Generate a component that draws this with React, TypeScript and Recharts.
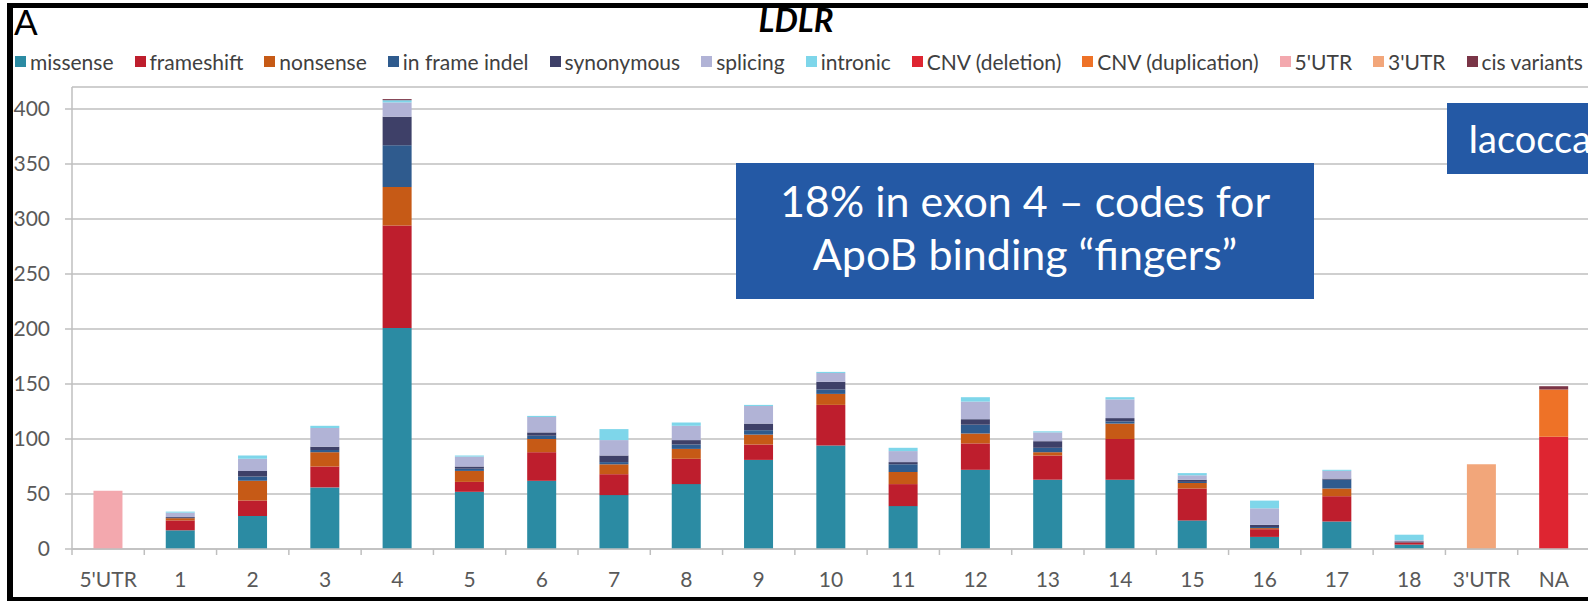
import React from 'react';
import { BarChart, Bar, XAxis, YAxis, CartesianGrid } from 'recharts';

// LDLR variant counts per exon
const categories = ["5'UTR", '1', '2', '3', '4', '5', '6', '7', '8', '9', '10', '11', '12', '13', '14', '15', '16', '17', '18', "3'UTR", 'NA'];

const missense = [0, 17, 30, 56, 201, 52, 62, 49, 59, 81, 94, 39, 72, 63, 63, 26, 11, 25, 4, 0, 0];
const frameshift = [0, 9, 14, 19, 93, 9, 26, 19, 23, 14, 37, 20, 24, 22, 37, 29, 7, 23, 2, 0, 0];
const nonsense = [0, 2, 18, 13, 35, 10, 12, 9, 9, 9, 10, 11, 9, 3, 14, 5, 1, 7, 0, 0, 0];
const inFrameIndel = [0, 0, 4, 2, 38, 2, 3, 2, 4, 4, 4, 7, 8, 4, 2, 1, 1, 8, 0, 0, 0];
const synonymous = [0, 1, 5, 3, 26, 2, 3, 6, 4, 6, 7, 2, 5, 6, 3, 2, 2, 1, 1, 0, 0];
const splicing = [0, 4, 11, 17, 13, 9, 14, 14, 13, 16, 8, 10, 16, 8, 17, 4, 15, 7, 1, 0, 0];
const intronic = [0, 1, 3, 2, 2, 1, 1, 10, 3, 1, 1, 3, 4, 1, 2, 2, 7, 1, 5, 0, 0];
const cnvDeletion = [0, 0, 0, 0, 0, 0, 0, 0, 0, 0, 0, 0, 0, 0, 0, 0, 0, 0, 0, 0, 102];
const cnvDuplication = [0, 0, 0, 0, 0, 0, 0, 0, 0, 0, 0, 0, 0, 0, 0, 0, 0, 0, 0, 0, 43];
const utr5 = [53, 0, 0, 0, 0, 0, 0, 0, 0, 0, 0, 0, 0, 0, 0, 0, 0, 0, 0, 0, 0];
const utr3 = [0, 0, 0, 0, 0, 0, 0, 0, 0, 0, 0, 0, 0, 0, 0, 0, 0, 0, 0, 77, 0];
const cisVariants = [0, 0, 0, 0, 1, 0, 0, 0, 0, 0, 0, 0, 0, 0, 0, 0, 0, 0, 0, 0, 3];

const yTicks = [0, 50, 100, 150, 200, 250, 300, 350, 400];

const series = [
  { key: 'missense', name: 'missense', color: '#2B8BA3', values: missense },
  { key: 'frameshift', name: 'frameshift', color: '#BE1E2D', values: frameshift },
  { key: 'nonsense', name: 'nonsense', color: '#C65A16', values: nonsense },
  { key: 'indel', name: 'in frame indel', color: '#2F5B8E', values: inFrameIndel },
  { key: 'synonymous', name: 'synonymous', color: '#3E4068', values: synonymous },
  { key: 'splicing', name: 'splicing', color: '#B1B3D6', values: splicing },
  { key: 'intronic', name: 'intronic', color: '#7ED6EA', values: intronic },
  { key: 'cnvDel', name: 'CNV (deletion)', color: '#DE2531', values: cnvDeletion },
  { key: 'cnvDup', name: 'CNV (duplication)', color: '#EE7227', values: cnvDuplication },
  { key: 'utr5', name: "5'UTR", color: '#F3A8AE', values: utr5 },
  { key: 'utr3', name: "3'UTR", color: '#F2A67A', values: utr3 },
  { key: 'cis', name: 'cis variants', color: '#7A3547', values: cisVariants },
];

const data = categories.map((category, i) => {
  const row: Record<string, string | number> = { category };
  series.forEach((s) => {
    row[s.key] = s.values[i];
  });
  return row;
});

const CHART_W = 1600;
const CHART_H = 601;
const MARGIN = { top: 87, right: 10, left: 0, bottom: 0 };
const Y_AXIS_W = 72;
const PLOT_W = CHART_W - MARGIN.left - MARGIN.right - Y_AXIS_W;
const AXIS_GREY = '#bfbfbf';
const LABEL_GREY = '#595959';
const FONT = 'Lato, "Open Sans", sans-serif';
const BOX_BLUE = '#2459A5';

const CategoryTick = (props: any) => {
  const { x, y, payload } = props;
  const half = PLOT_W / categories.length / 2;
  return (
    <g>
      <line x1={x - half} x2={x - half} y1={y} y2={y + 6} stroke={AXIS_GREY} strokeWidth={1.5} />
      <text x={x} y={y + 38} textAnchor="middle" fill={LABEL_GREY} fontSize={21} fontFamily={FONT}>
        {payload.value}
      </text>
    </g>
  );
};

const LegendRow = () => (
  <div
    style={{
      position: 'absolute',
      top: 51,
      left: 15,
      display: 'flex',
      gap: 21,
      whiteSpace: 'nowrap',
      fontSize: 21,
      lineHeight: '21px',
      color: '#404040',
      fontFamily: FONT,
    }}
  >
    {series.map((s) => (
      <div key={s.key} style={{ display: 'flex', alignItems: 'center' }}>
        <span style={{ display: 'inline-block', width: 11, height: 11, background: s.color, marginRight: 4 }} />
        <span>{s.name}</span>
      </div>
    ))}
  </div>
);

export default function App() {
  return (
    <div
      style={{
        position: 'absolute',
        left: 0,
        top: 0,
        width: 1588,
        height: 601,
        overflow: 'hidden',
        background: '#fff',
        fontFamily: FONT,
      }}
    >
      <BarChart width={CHART_W} height={CHART_H} data={data} margin={MARGIN} barCategoryGap="29.7%">
        <CartesianGrid vertical={false} stroke={AXIS_GREY} strokeWidth={1.4} />
        <XAxis
          dataKey="category"
          interval={0}
          height={52}
          tickSize={0}
          tickMargin={0}
          tickLine={false}
          axisLine={{ stroke: AXIS_GREY, strokeWidth: 1.5 }}
          tick={(p: any) => <CategoryTick {...p} />}
        />
        <YAxis
          width={Y_AXIS_W}
          domain={[0, 420]}
          ticks={yTicks}
          tickSize={7}
          tickMargin={15}
          axisLine={{ stroke: AXIS_GREY, strokeWidth: 1.5 }}
          tickLine={{ stroke: AXIS_GREY, strokeWidth: 1.5 }}
          tick={{ fill: LABEL_GREY, fontSize: 21, fontFamily: FONT }}
        />
        {series.map((s) => (
          <Bar key={s.key} dataKey={s.key} name={s.name} stackId="v" fill={s.color} isAnimationActive={false} />
        ))}
      </BarChart>

      <LegendRow />

      <div style={{ position: 'absolute', left: 14, top: 4, fontSize: 35, lineHeight: '35px', color: '#000' }}>A</div>
      <div
        style={{
          position: 'absolute',
          left: 696,
          width: 200,
          top: 3,
          textAlign: 'center',
          fontSize: 33,
          lineHeight: '33px',
          fontWeight: 700,
          fontStyle: 'italic',
          color: '#000',
        }}
      >
        LDLR
      </div>

      <div
        style={{
          position: 'absolute',
          left: 736,
          top: 163,
          width: 578,
          height: 136,
          boxSizing: 'border-box',
          paddingTop: 11,
          background: BOX_BLUE,
          color: '#fff',
          fontSize: 43,
          lineHeight: '53px',
          textAlign: 'center',
        }}
      >
        <div>18% in exon 4 – codes for</div>
        <div>ApoB binding “fingers”</div>
      </div>

      <div
        style={{
          position: 'absolute',
          left: 1447,
          top: 103,
          width: 200,
          height: 71,
          boxSizing: 'border-box',
          paddingLeft: 21,
          background: BOX_BLUE,
          color: '#fff',
          fontSize: 38,
          lineHeight: '71px',
          whiteSpace: 'nowrap',
        }}
      >
        Iacocca
      </div>

      {/* slide frame */}
      <div style={{ position: 'absolute', left: 7, top: 3, width: 1600, height: 5, background: '#000' }} />
      <div style={{ position: 'absolute', left: 7, top: 3, width: 6, height: 598, background: '#000' }} />
      <div style={{ position: 'absolute', left: 7, top: 597, width: 1600, height: 4, background: '#000' }} />
    </div>
  );
}
